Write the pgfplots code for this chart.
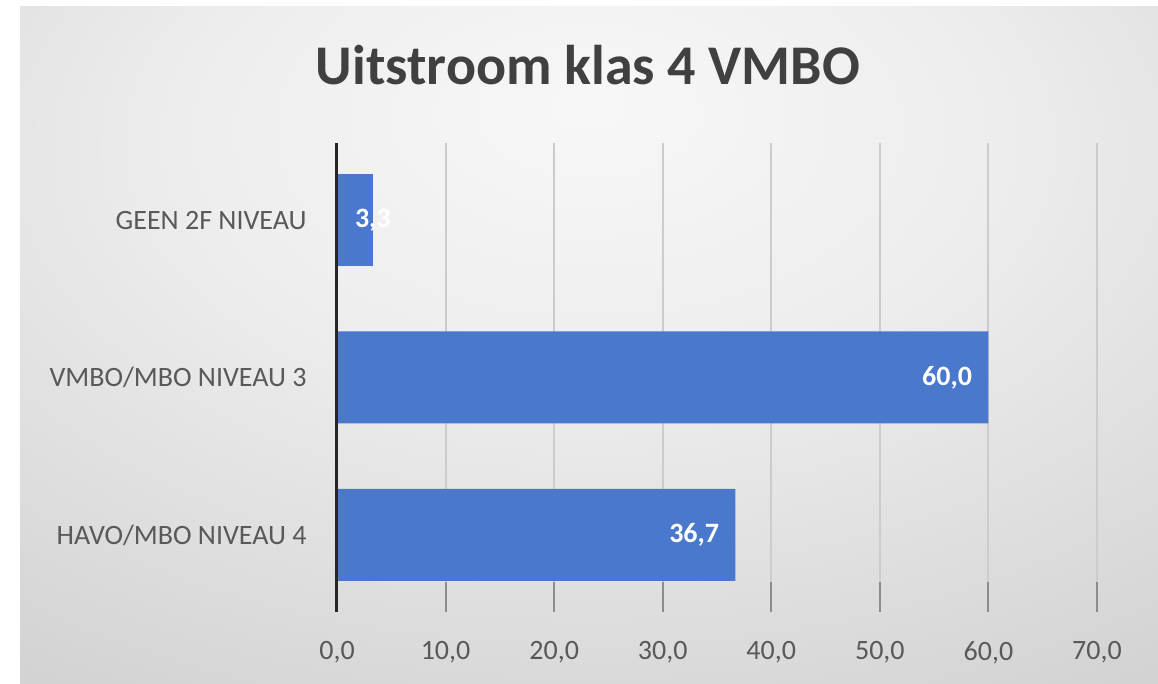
\documentclass[border=0pt]{standalone}
\usepackage{pgfplots}
\pgfplotsset{compat=1.18}
\usepackage{fontspec}
\setmainfont{Carlito}
\definecolor{barblue}{RGB}{74,120,204}
\definecolor{txt}{RGB}{89,89,89}
\definecolor{ttl}{RGB}{64,64,64}
\pgfdeclareradialshading{bgshade}{\pgfpoint{0bp}{18bp}}{color(0bp)=(white!97!black); color(18bp)=(white!93!black); color(45bp)=(white!82!black); color(70bp)=(white!75!black); color(120bp)=(white!75!black)}
\begin{document}
\begin{tikzpicture}
\path[use as bounding box] (0,0) rectangle (579pt,342pt);
\fill[white] (0,0) rectangle (579pt,342pt);
\shade[shading=bgshade] (10pt,0) rectangle (579pt,338.5pt);
\node[anchor=base, font=\fontsize{28}{32}\selectfont\bfseries, text=ttl, inner sep=0pt] at (294pt,299.5pt) {Uitstroom klas 4 VMBO};
\begin{axis}[
  at={(168.5pt,36pt)}, anchor=south west, scale only axis,
  width=380pt, height=234.5pt, clip=false,
  xbar, bar width=46pt, bar shift=0pt,
  xmin=0, xmax=70, ymin=-0.49, ymax=2.49,
  xtick={0,10,...,70}, ytick={0,1,2},
  yticklabels={HAVO/MBO NIVEAU 4, VMBO/MBO NIVEAU 3, GEEN 2F NIVEAU},
  axis line style={draw=none},
  xmajorgrids, grid style={black!20, line width=1pt},
  xtick pos=lower, tick align=inside, major tick length=15pt,
  xtick style={black!45, line width=1pt},
  ytick style={draw=none},
  ticklabel style={font=\fontsize{14}{16}\selectfont, text=txt},
  /pgf/number format/.cd, fixed, fixed zerofill, precision=1, use comma, assume math mode=true,
  /pgfplots/.cd,
  xticklabel style={inner sep=0pt, anchor=north, yshift=-14.5pt},
  yticklabel style={inner sep=0pt, anchor=east, xshift=-15pt},
  nodes near coords style={font=\fontsize{14}{16}\selectfont\bfseries, text=white, inner sep=0pt},
  nodes near coords={\pgfmathprintnumber[fixed,fixed zerofill,precision=1,use comma,assume math mode=true]{\pgfplotspointmeta}},
]
\addplot[fill=barblue, draw=none, nodes near coords, every node near coord/.append style={anchor=east, xshift=-8pt}] coordinates {(36.7,0) (60.0,1)};
\addplot[fill=barblue, draw=none, nodes near coords, every node near coord/.append style={anchor=center}] coordinates {(3.3,2)};
\draw[black!85, line width=1.5pt] (axis cs:0,-0.49) -- (axis cs:0,2.49);
\end{axis}
\end{tikzpicture}
\end{document}
